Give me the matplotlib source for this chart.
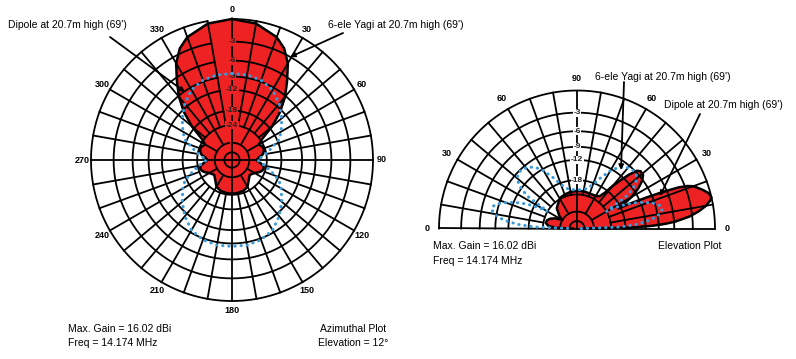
import numpy as np
import matplotlib.pyplot as plt

plt.rcParams['font.family'] = ['Liberation Sans', 'DejaVu Sans']

W, H = 796, 359

# Azimuth pattern at 12 deg elevation, degrees clockwise from north,
# dB relative to the 16.02 dBi maximum (pattern is symmetric left/right)
yagi_az_deg = [0, 10, 20, 25, 30, 35, 40, 45, 50, 55, 60, 65, 70, 75, 80, 85, 90,
               95, 100, 105, 110, 115, 120, 130, 140, 150, 160, 170, 180]
yagi_az_db = [0, -0.3, -1.3, -2.3, -4.0, -6.6, -9.2, -12.5, -17, -23, -26, -25, -24.5,
              -25, -26, -28.5, -30, -28, -25.5, -25, -25.5, -27, -29, -31, -29, -26,
              -25, -24.7, -24.5]
dipole_az_deg = [0, 10, 20, 30, 40, 50, 60, 67, 75, 80, 85, 90]
dipole_az_db = [-8.4, -8.4, -8.7, -9.5, -11.2, -13.3, -15.6, -17.5, -22, -24.5, -27, -29.5]

# Elevation pattern, degrees from the forward horizon (0) over the top to the back (180)
yagi_el_deg = [0, 1, 2, 3, 4, 6, 8, 10, 12, 13, 15, 17, 19, 20, 21, 22, 23, 24, 25, 26,
               28, 30, 33, 36, 39, 42, 44, 46, 48, 50, 52, 55, 60, 70, 80, 90, 100, 110,
               118, 125, 135, 145, 150, 155, 160, 165, 170, 175, 178, 180]
yagi_el_db = [-60, -16, -10.5, -7.7, -5.8, -3.5, -2.0, -0.9, -0.2, 0, -0.2, -0.8, -1.5,
              -1.9, -2.6, -3.9, -6.5, -10, -14, -19, -16, -13.5, -11, -9.3, -8.3, -8.2,
              -8.7, -10.5, -13, -15.5, -19, -21.5, -22.3, -22.5, -22.2, -22.3, -22.5,
              -23, -23.5, -25, -27, -32, -36, -30, -27, -25.5, -25.3, -27, -32, -60]
# dipole is symmetric about the zenith
dipole_el_deg = [0, 2, 4, 6, 8, 10, 12, 13, 15, 17, 19, 21, 23, 25, 27, 29, 30, 31, 32,
                 33, 35, 37, 40, 43, 46, 49, 52, 56, 60, 65, 70, 75, 80, 90]
dipole_el_db = [-60, -20, -14.5, -11.5, -9.6, -8.5, -8.0, -7.8, -8.0, -8.6, -9.6, -11,
                -12.5, -14.5, -17, -21, -24, -22, -19, -15, -12.5, -11, -9.8, -9.2,
                -9.2, -9.4, -9.8, -10.8, -12.5, -15.5, -18.5, -20.5, -21.5, -21.8]

ring_db = [0, -3, -6, -9, -12, -18, -24, -36, -50]
az_ring_labels = ['-3', '-6', '-9', '-12', '-18', '-24']
el_ring_labels = ['-3', '-6', '-9', '-12', '-18']

RED = '#ee2222'
BLUE = '#3a9ad9'


def arrl(db):
    # ARRL log scale: radius shrinks by 0.89 every 2 dB
    return 0.89 ** (-np.asarray(db, dtype=float) / 2)


def az_xy(deg, r):
    t = np.radians(deg)
    return r * np.sin(t), r * np.cos(t)


def el_xy(deg, r):
    t = np.radians(deg)
    return r * np.cos(t), r * np.sin(t)


def add_axes(cx, cy, R, x0, x1, y0, y1):
    ax = fig.add_axes([(cx + x0 * R) / W, (H - cy + y0 * R) / H,
                       (x1 - x0) * R / W, (y1 - y0) * R / H])
    ax.set_xlim(x0, x1)
    ax.set_ylim(y0, y1)
    ax.axis('off')
    return ax


def draw_grid(ax, xy, t0, t1, cardinal):
    tt = np.arange(t0, t1 + 1, 1.0)
    for db in ring_db:
        x, y = xy(tt, arrl(db) * np.ones_like(tt))
        ax.plot(x, y, color='black', lw=1.3, zorder=3)
    for a in range(t0, t1 + 1, 10):
        if a in cardinal:
            start = 0
        elif a % 30 == 0:
            start = arrl(-36)
        else:
            start = arrl(-24)
        x, y = xy(np.array([a, a]), np.array([start, 1.0]))
        ax.plot(x, y, color='black', lw=1.3, zorder=3)


fig = plt.figure(figsize=(W / 100, H / 100), dpi=100)

# ---------------- azimuth plot ----------------
ax1 = add_axes(232, 160, 141, -1.16, 1.16, -1.16, 1.16)
full_deg = yagi_az_deg + [360 - d for d in yagi_az_deg[-2::-1]]
full_db = yagi_az_db + yagi_az_db[-2::-1]
x, y = az_xy(np.array(full_deg), arrl(full_db))
ax1.fill(x, y, color=RED, zorder=1)
ax1.plot(x, y, color='black', lw=1.8, zorder=2)

d = dipole_az_deg
dip_deg = d + [180 - v for v in d[-2::-1]] + [180 + v for v in d[1:]] + [360 - v for v in d[-2::-1]]
dip_db = dipole_az_db + dipole_az_db[-2::-1] + dipole_az_db[1:] + dipole_az_db[-2::-1]
x, y = az_xy(np.array(dip_deg), arrl(dip_db))
ax1.plot(x, y, color=BLUE, lw=2.2, ls=(0, (0.1, 1.9)), dash_capstyle='round', zorder=5)

draw_grid(ax1, az_xy, 0, 350, (0, 90, 180, 270))
for a in range(0, 360, 30):
    x, y = az_xy(a, 1.065)
    ax1.text(x, y, str(a), ha='center', va='center', fontsize=6.5, fontweight='bold')
for lab in az_ring_labels:
    ax1.text(0, arrl(float(lab)), lab, ha='center', va='center', fontsize=6,
             fontweight='bold', color='#222222', zorder=4,
             bbox=dict(boxstyle='square,pad=0.05', fc=RED, ec='none'))

# ---------------- elevation plot ----------------
ax2 = add_axes(577, 228.5, 138, -1.16, 1.16, -0.6, 1.16)
x, y = el_xy(np.array(yagi_el_deg), arrl(yagi_el_db))
ax2.fill(x, y, color=RED, zorder=1)
ax2.plot(x, y, color='black', lw=1.8, zorder=2)

e = dipole_el_deg
del_deg = e + [180 - v for v in e[-2::-1]]
del_db = dipole_el_db + dipole_el_db[-2::-1]
x, y = el_xy(np.array(del_deg), arrl(del_db))
ax2.plot(x, y, color=BLUE, lw=2.2, ls=(0, (0.1, 1.9)), dash_capstyle='round', zorder=5)

draw_grid(ax2, el_xy, 0, 180, (0, 90, 180))
for a in range(0, 181, 30):
    x, y = el_xy(a, 1.085)
    ax2.text(x, y, str(min(a, 180 - a)), ha='center', va='center', fontsize=6.5,
             fontweight='bold')
for lab in el_ring_labels:
    ax2.text(0, arrl(float(lab)), lab, ha='center', va='center', fontsize=6,
             fontweight='bold', color='#222222', zorder=4,
             bbox=dict(boxstyle='square,pad=0.05', fc='white', ec='none'))

# ---------------- texts and pointers ----------------
def ftext(x, y, s, **kw):
    fig.text(x / W, 1 - y / H, s, fontsize=7.5, va='center', **kw)


ftext(8, 25, "Dipole at 20.7m high (69')")
ftext(328, 25, "6-ele Yagi at 20.7m high (69')")
ftext(68, 329, "Max. Gain = 16.02 dBi")
ftext(68, 343, "Freq = 14.174 MHz")
ftext(353, 329, "Azimuthal Plot", ha='center')
ftext(353, 343, "Elevation = 12°", ha='center')

ftext(595, 77, "6-ele Yagi at 20.7m high (69')")
ftext(664, 105, "Dipole at 20.7m high (69')")
ftext(433, 246, "Max. Gain = 16.02 dBi")
ftext(433, 261, "Freq = 14.174 MHz")
ftext(690, 246, "Elevation Plot", ha='center')

pointers = [((110, 37), (185, 92)), ((343, 33), (290, 57)),
            ((624, 82), (621, 170)), ((700, 114), (660, 196))]
for (tx, ty), (hx, hy) in pointers:
    fig.add_artist(plt.Annotation('', xy=(hx, H - hy), xycoords='figure pixels',
                                  xytext=(tx, H - ty), textcoords='figure pixels',
                                  arrowprops=dict(arrowstyle='-|>', lw=1.3, color='black',
                                                  mutation_scale=7, shrinkA=0, shrinkB=0)))

fig.savefig('out.png', dpi=100)
